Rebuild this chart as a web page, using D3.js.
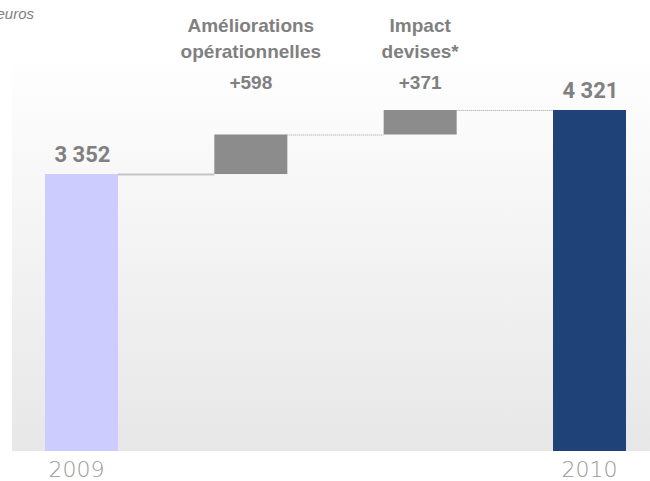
<!DOCTYPE html>
<html>
<head>
<meta charset="utf-8">
<script src="https://cdn.jsdelivr.net/npm/d3@7"></script>
<style>
	html, body { margin: 0; padding: 0; background: #ffffff; }
	svg { display: block; }
</style>
</head>
<body>
<div class="chart"></div>
<script>
// ── Data ────────────────────────────────────────────────────────────────
const categories = ['2009', 'Améliorations opérationnelles', 'Impact devises*', '2010'];
const headerLines = [[], ['Améliorations', 'opérationnelles'], ['Impact', 'devises*'], []];
const values = [3352, 598, 371, 4321];
const kinds = ['total', 'delta', 'delta', 'total'];
const valueLabels = ['3 352', '+598', '+371', '4 321'];
const tickLabels = ['2009', '', '', '2010'];
const unitLabel = "En millions d'euros";

// ── Layout ──────────────────────────────────────────────────────────────
const WIDTH = 650;
const HEIGHT = 481;
const PLOT = {left: 12, right: 650, top: 50, bottom: 451};
const BAR_COLORS = {first: '#ccccff', delta: '#8c8c8c', last: '#1f4279'};
const TEXT_COLOR = '#808080';
const Y_FLOOR = -840; // the source chart is not drawn from zero

// running start/end of each step
let running = 0;
const steps = values.map((value, i) =>
{
	let start, end;
	if(kinds[i] === 'total')
	{
		start = Y_FLOOR;
		end = value;
		running = value;
	}
	else
	{
		start = running;
		end = running + value;
		running = end;
	}
	return {category: categories[i], start, end, kind: kinds[i], index: i};
});

const svg = d3.select('.chart')
.append('svg')
.attr('width', WIDTH)
.attr('height', HEIGHT);

const defs = svg.append('defs');
const gradient = defs.append('linearGradient')
.attr('id', 'bg')
.attr('x1', 0).attr('y1', 0).attr('x2', 0).attr('y2', 1);
gradient.append('stop').attr('offset', '0%').attr('stop-color', '#ffffff');
gradient.append('stop').attr('offset', '100%').attr('stop-color', '#e7e7e7');

svg.append('rect')
.attr('x', PLOT.left)
.attr('y', PLOT.top)
.attr('width', PLOT.right - PLOT.left)
.attr('height', PLOT.bottom - PLOT.top)
.attr('fill', 'url(#bg)');

const xScale = d3.scaleBand()
.domain(categories)
.range([45, 626])
.paddingInner(0.569)
.paddingOuter(0);

const yScale = d3.scaleLinear()
.domain([Y_FLOOR, 4321])
.range([PLOT.bottom, 110]);

const barColor = (d) =>
{
	if(d.kind === 'delta') return BAR_COLORS.delta;
	return d.index === 0 ? BAR_COLORS.first : BAR_COLORS.last;
};

// connectors between consecutive steps
steps.slice(0, -1).forEach((d, i) =>
{
	const next = steps[i + 1];
	svg.append('line')
	.attr('x1', xScale(d.category) + xScale.bandwidth())
	.attr('x2', xScale(next.category))
	.attr('y1', yScale(d.end) + 0.5)
	.attr('y2', yScale(d.end) + 0.5)
	.attr('stroke', i === 0 ? '#c4c4c4' : '#a0a0a0')
	.attr('stroke-width', i === 0 ? 2 : 1)
	.attr('stroke-dasharray', i === 0 ? null : '1,1');
});

svg.append('g')
.selectAll('.bar')
.data(steps)
.join('rect')
.attr('class', 'bar')
.attr('x', (d) => xScale(d.category))
.attr('width', xScale.bandwidth())
.attr('y', (d) => yScale(Math.max(d.start, d.end)))
.attr('height', (d) => Math.abs(yScale(d.start) - yScale(d.end)))
.attr('fill', barColor);

// value labels above total bars
steps.filter((d) => d.kind === 'total').forEach((d) =>
{
	svg.append('text')
	.attr('x', xScale(d.category) + xScale.bandwidth() / 2 + 1)
	.attr('y', yScale(d.end) - 12)
	.attr('text-anchor', 'middle')
	.attr('font-family', 'Roboto, Liberation Sans, sans-serif')
	.attr('font-weight', 'bold')
	.attr('font-size', 22)
	.attr('fill', TEXT_COLOR)
	.text(valueLabels[d.index]);
});

// header labels over the delta bars
const headerBaselines = [32, 58, 89];
steps.filter((d) => d.kind === 'delta').forEach((d) =>
{
	const cx = xScale(d.category) + xScale.bandwidth() / 2;
	const lines = headerLines[d.index].concat([valueLabels[d.index]]);
	const text = svg.append('text')
	.attr('text-anchor', 'middle')
	.attr('font-family', 'Liberation Sans, Arial, sans-serif')
	.attr('font-weight', 'bold')
	.attr('font-size', 19)
	.attr('fill', TEXT_COLOR);
	lines.forEach((line, k) =>
	{
		text.append('tspan')
		.attr('x', cx)
		.attr('y', headerBaselines[k])
		.text(line);
	});
});

// unit label, cut off at the left edge as in the source
svg.append('text')
.attr('x', 34)
.attr('y', 19)
.attr('text-anchor', 'end')
.attr('font-family', 'Liberation Sans, Arial, sans-serif')
.attr('font-style', 'italic')
.attr('font-size', 15)
.attr('fill', TEXT_COLOR)
.text(unitLabel);

// category axis
const xAxis = d3.axisBottom(xScale)
.tickSize(0)
.tickPadding(10)
.tickFormat((c) => tickLabels[categories.indexOf(c)]);

const axisGroup = svg.append('g')
.attr('transform', `translate(0, ${PLOT.bottom})`)
.call(xAxis);
axisGroup.select('.domain').remove();
axisGroup.selectAll('text')
.attr('font-family', 'DejaVu Sans, sans-serif')
.attr('font-size', 22)
.attr('font-weight', 300)
.attr('fill', '#999999');
axisGroup.selectAll('.tick')
.filter((c) => c === '2009')
.select('text')
.attr('dx', -5);
</script>
</body>
</html>
